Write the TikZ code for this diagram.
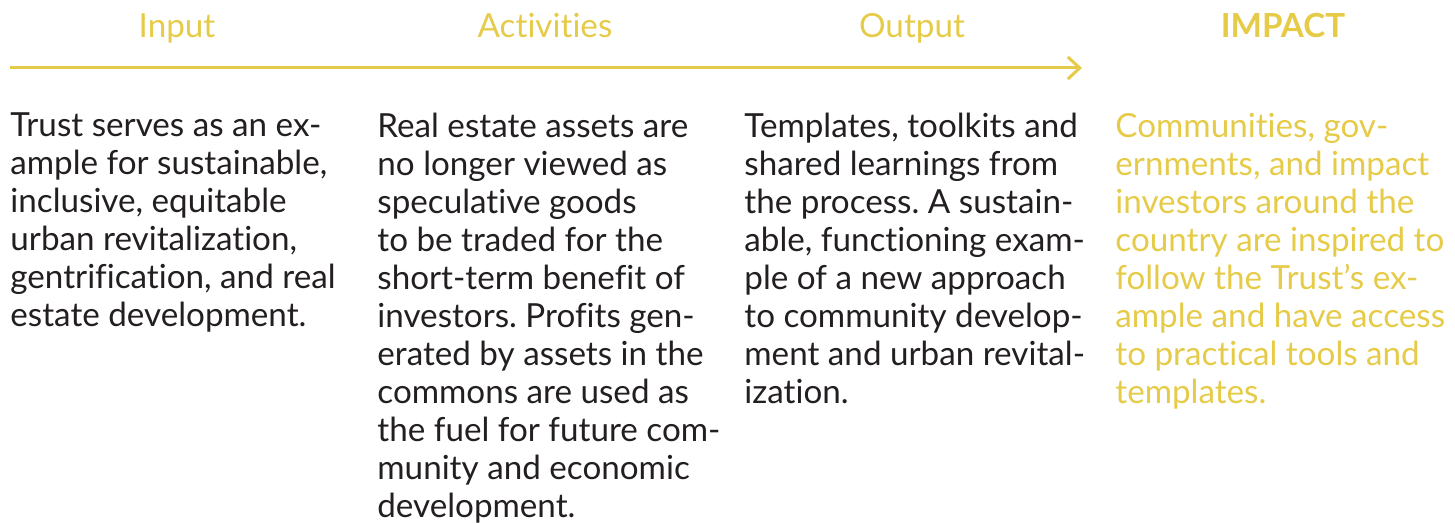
\documentclass[tikz,border=0pt]{standalone}
\usepackage{fontspec}
\setmainfont{Lato}[Ligatures=NoCommon]
\usetikzlibrary{arrows.meta}
\definecolor{ppYellow}{RGB}{230,203,72}
\definecolor{ppText}{RGB}{35,31,32}
\frenchspacing

\begin{document}
\begin{tikzpicture}[x=0.5pt, y=-0.5pt,
  head/.style={text=ppYellow, inner sep=0pt, anchor=base, font=\fontsize{16.6}{19}\selectfont},
  body/.style={text=ppText, inner sep=0pt, anchor=base west, align=left, font=\fontsize{16.6}{19}\selectfont}]
  \useasboundingbox (0,0) rectangle (1455,523);
  % column headings
  \node[head] (input) at (177,38) {Input};
  \node[head] (activities) at (545,38) {Activities};
  \node[head] (output) at (912,38) {Output};
  \node[head, font=\fontsize{16.6}{19}\selectfont\bfseries] (impact) at (1283,38) {IMPACT};
  % timeline
  \coordinate (tlstart) at (10,68);
  \coordinate (tlend) at (1082,68);
  \draw[ppYellow, line width=1.5pt, -{Straight Barb[length=6pt, width=11pt, line width=1.5pt]}] (tlstart) -- (tlend);
  % column texts (anchored at the baseline of their last line)
  \node[body] (inputtxt) at (10,327) {Trust serves as an ex-\\ample for sustainable,\\inclusive, equitable\\urban revitalization,\\gentrification, and real\\estate development.};
  \node[body] (activitiestxt) at (377,517) {Real estate assets are\\no longer viewed as\\speculative goods\\to be traded for the\\short-term benefit of\\investors. Profits gen-\\erated by assets in the\\commons are used as\\the fuel for future com-\\munity and economic\\development.};
  \node[body] (outputtxt) at (744,403) {Templates, toolkits and\\shared learnings from\\the process. A sustain-\\able, functioning exam-\\ple of a new approach\\to community develop-\\ment and urban revital-\\ization.};
  \node[body, text=ppYellow] (impacttxt) at (1115,403) {Communities, gov-\\ernments, and impact\\investors around the\\country are inspired to\\follow the Trust's ex-\\ample and have access\\to practical tools and\\templates.};
\end{tikzpicture}
\end{document}
